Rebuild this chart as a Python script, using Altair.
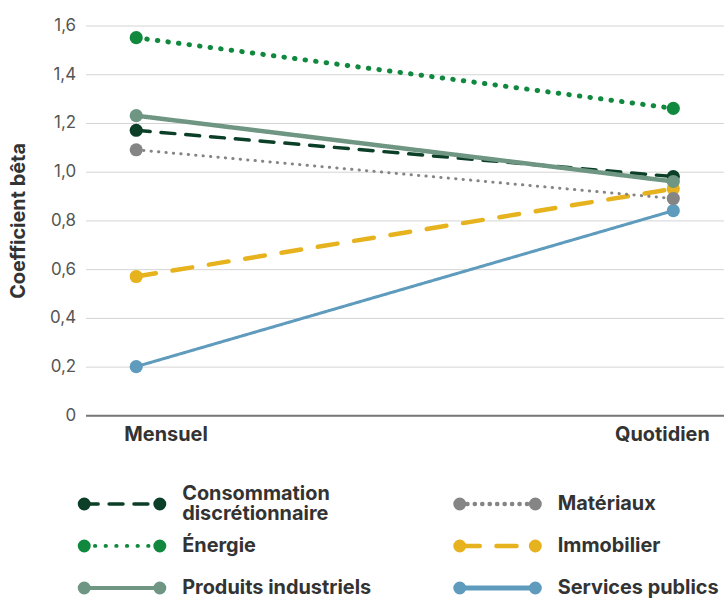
import altair as alt
import pandas as pd

# ---- data ----
series = ["Consommation discrétionnaire", "Énergie", "Produits industriels",
          "Matériaux", "Immobilier", "Services publics"]
periods = ["Mensuel", "Quotidien"]
mensuel = [1.17, 1.55, 1.23, 1.09, 0.57, 0.20]
quotidien = [0.98, 1.26, 0.96, 0.89, 0.93, 0.84]
y_ticks = [0, 0.2, 0.4, 0.6, 0.8, 1.0, 1.2, 1.4, 1.6]

# ---- styles ----
colors = ["#0b3f28", "#10893f", "#6f9683", "#858585", "#e6b31e", "#5f9bbd"]
dashes = [[14, 11], [0.5, 10.2], [1, 0], [0.3, 7.2], [20, 17], [1, 0]]
widths = [3.5, 5, 4.5, 3, 4.5, 3]
draw_order = ["Services publics", "Immobilier", "Matériaux",
              "Consommation discrétionnaire", "Produits industriels", "Énergie"]
legend_col = [0, 0, 0, 1, 1, 1]
legend_row = [0, 1, 2, 0, 1, 2]

FONT = "Inter"
BIG = 20

rows = []
for i, s in enumerate(series):
    rows.append({"serie": s, "periode": periods[0], "beta": mensuel[i]})
    rows.append({"serie": s, "periode": periods[1], "beta": quotidien[i]})
df = pd.DataFrame(rows)

x_enc = alt.X("periode:N", title=None, sort=periods,
              scale=alt.Scale(type="point", padding=0.0944),
              axis=alt.Axis(labelAngle=0, ticks=False, grid=False,
                            domainColor="#777777", domainWidth=2,
                            labelFont=FONT, labelFontSize=BIG, labelFontWeight="bold",
                            labelColor="#333333", labelPadding=9,
                            labelOffset=alt.expr("datum.value == 'Mensuel' ? 29.5 : -11.5")))
y_enc = alt.Y("beta:Q", title="Coefficient bêta",
              scale=alt.Scale(domain=[0, 1.6], nice=False, zero=True),
              axis=alt.Axis(values=y_ticks, domain=False, ticks=False,
                            gridColor="#d4d4d4", gridWidth=1,
                            labelExpr="datum.value == 0 ? '0' : replace(format(datum.value, '.1f'), '.', ',')",
                            labelFont=FONT, labelFontSize=17, labelColor="#555555",
                            labelPadding=10,
                            titleFont=FONT, titleFontSize=20, titleFontWeight="bold",
                            titleColor="#333333", titlePadding=21))

layers = []
first = True
for s in draw_order:
    i = series.index(s)
    sub = df[df["serie"] == s]
    base = alt.Chart(sub)
    line = base.mark_line(color=colors[i], strokeWidth=widths[i],
                          strokeDash=dashes[i], strokeCap="round").encode(
        x=x_enc if first else alt.X("periode:N", sort=periods),
        y=y_enc if first else alt.Y("beta:Q"))
    first = False
    pts = base.mark_circle(color=colors[i], size=175, opacity=1).encode(
        x=alt.X("periode:N", sort=periods), y=alt.Y("beta:Q"))
    layers += [line, pts]

main = alt.layer(*layers).properties(width=642, height=392)

# ---- legend (built from the series arrays) ----
LW = 642
LH = 114
col_x0 = [-1.3, 376.3]
seg_len = 76
text_gap = 22.5
row_step = LH / 2.7
line_h = 21
leg_rows = []
leg_pts = []
for i, s in enumerate(series):
    x0 = col_x0[legend_col[i]]
    label = s.replace("Consommation ", "Consommation\n")
    nlines = label.count("\n") + 1
    leg_rows.append({"serie": s, "ty": legend_row[i] - (nlines - 1) * line_h / 2 / row_step,
                     "xt": x0 + seg_len + text_gap, "label": label})
    leg_pts.append({"serie": s, "row": legend_row[i], "x": x0})
    leg_pts.append({"serie": s, "row": legend_row[i], "x": x0 + seg_len})
ldf = pd.DataFrame(leg_pts)
tdf = pd.DataFrame(leg_rows)

lx = alt.Scale(domain=[0, LW])
ly = alt.Scale(domain=[-0.5, 2.2], reverse=True)
color_s = alt.Scale(domain=series, range=colors)
dash_s = alt.Scale(domain=series, range=dashes)
width_s = alt.Scale(domain=series, range=widths)

leg_line = alt.Chart(ldf).mark_line(strokeCap="round").encode(
    x=alt.X("x:Q", scale=lx, axis=None),
    y=alt.Y("row:Q", scale=ly, axis=None),
    detail="serie:N",
    color=alt.Color("serie:N", scale=color_s, legend=None),
    strokeDash=alt.StrokeDash("serie:N", scale=dash_s, legend=None),
    strokeWidth=alt.StrokeWidth("serie:N", scale=width_s, legend=None))
leg_pts_m = alt.Chart(ldf).mark_circle(size=170, opacity=1).encode(
    x=alt.X("x:Q", scale=lx, axis=None),
    y=alt.Y("row:Q", scale=ly, axis=None),
    color=alt.Color("serie:N", scale=color_s, legend=None))
leg_text = alt.Chart(tdf).mark_text(align="left", baseline="middle", font=FONT,
                                    fontSize=BIG, fontWeight="bold", color="#333333",
                                    lineBreak="\n", lineHeight=line_h).encode(
    x=alt.X("xt:Q", scale=lx, axis=None),
    y=alt.Y("ty:Q", scale=ly, axis=None),
    text="label:N")

legend = alt.layer(leg_line, leg_pts_m, leg_text).properties(width=LW, height=LH)

chart = alt.vconcat(main, legend, spacing=39).properties(
    padding={"left": 8, "top": 15, "right": 0, "bottom": 0}
).configure_view(stroke=None).configure_concat(spacing=39)

chart.save("out.html", embed_options={"renderer": "svg", "actions": False})
